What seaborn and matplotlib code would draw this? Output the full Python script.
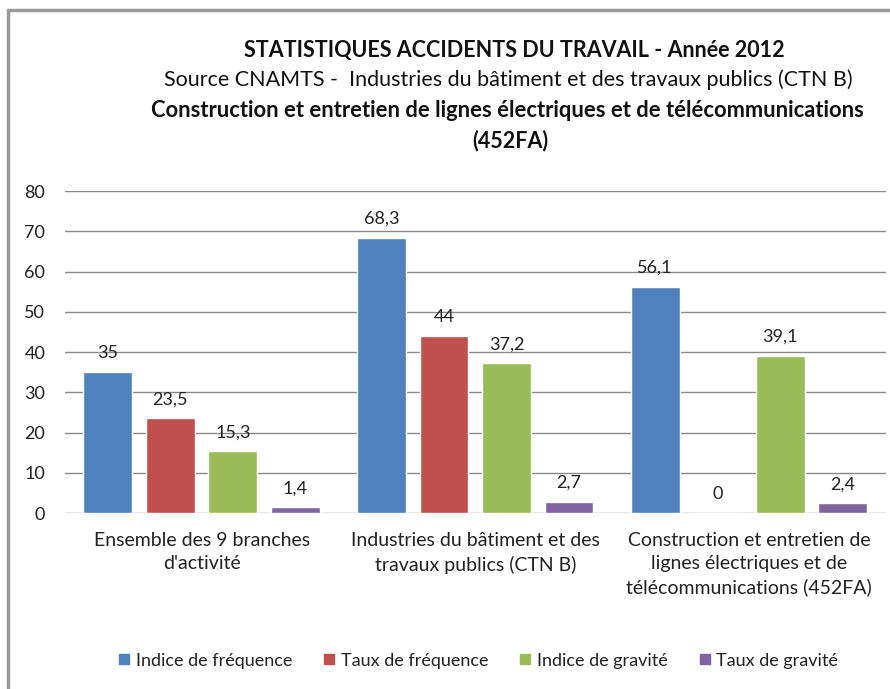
import matplotlib
matplotlib.use("Agg")
import matplotlib.pyplot as plt
import seaborn as sns
import pandas as pd
from matplotlib.lines import Line2D

categories = [
    "Ensemble des 9 branches\nd'activité",
    "Industries du bâtiment et des\ntravaux publics (CTN B)",
    "Construction et entretien de\nlignes électriques et de\ntélécommunications (452FA)",
]
series = ["Indice de fréquence", "Taux de fréquence", "Indice de gravité", "Taux de gravité"]
indice_frequence = [35, 68.3, 56.1]
taux_frequence = [23.5, 44, 0]
indice_gravite = [15.3, 37.2, 39.1]
taux_gravite = [1.4, 2.7, 2.4]
colors = ["#4F81BD", "#C0504D", "#9BBB59", "#8064A2"]
yticks = [0, 10, 20, 30, 40, 50, 60, 70, 80]

values = [indice_frequence, taux_frequence, indice_gravite, taux_gravite]
rows = []
for s, vals in zip(series, values):
    for c, v in zip(categories, vals):
        rows.append({"cat": c, "serie": s, "val": v})
df = pd.DataFrame(rows)

sns.set_style("white")
plt.rcParams["font.family"] = ["Lato", "DejaVu Sans"]

fig = plt.figure(figsize=(8.9, 6.89), dpi=100)
ax = fig.add_axes([0.07275, 0.25544, 0.92253, 0.46734])

sns.barplot(data=df, x="cat", y="val", hue="serie", order=categories,
            hue_order=series, palette=colors, width=0.914, gap=0.22,
            saturation=1, ax=ax, legend=False, errorbar=None)

def fmt(v):
    s = ("%g" % v).replace(".", ",")
    return s

for cont in ax.containers:
    ax.bar_label(cont, labels=[fmt(b.get_height()) for b in cont],
                 padding=8, fontsize=13, color="#222222")

ax.set_ylim(0, 80)
ax.set_yticks(yticks)
ax.set_xlim(-0.5, 2.5)
ax.yaxis.grid(True, color="#8a8a8a", linewidth=1)
ax.set_axisbelow(True)
for sp in ax.spines.values():
    sp.set_visible(False)
ax.tick_params(axis="y", length=0, pad=14, labelsize=13, labelcolor="#222222")
ax.tick_params(axis="x", length=0, pad=14, labelsize=14, labelcolor="#222222")
ax.set_xlabel("")
ax.set_ylabel("")
for lbl in ax.get_xticklabels():
    lbl.set_linespacing(1.42)

handles = [Line2D([0], [0], marker="s", linestyle="none", markersize=7.5,
                  markerfacecolor=c, markeredgecolor=c) for c in colors]
fig.legend(handles, series, loc="center", bbox_to_anchor=(0.537, 0.041), ncol=4,
           frameon=False, fontsize=13, handlelength=0.7, handletextpad=0.3,
           columnspacing=1.7, labelcolor="#222222")

fig.text(0.578, 0.926, "STATISTIQUES ACCIDENTS DU TRAVAIL - Année 2012",
         ha="center", va="center", fontsize=15.5, fontweight="bold", color="#111111")
fig.text(0.571, 0.885, "Source CNAMTS -  Industries du bâtiment et des travaux publics (CTN B)",
         ha="center", va="center", fontsize=15.5, color="#111111")
fig.text(0.570, 0.840, "Construction et entretien de lignes électriques et de télécommunications",
         ha="center", va="center", fontsize=15.8, fontweight="bold", color="#111111")
fig.text(0.573, 0.796, "(452FA)",
         ha="center", va="center", fontsize=15.5, fontweight="bold", color="#111111")

# outer border (top and left edges visible)
fig.add_artist(Line2D([8 / 890, 1.0], [1 - 10 / 689, 1 - 10 / 689],
                      transform=fig.transFigure, color="#9a9a9a", linewidth=2.5))
fig.add_artist(Line2D([8 / 890, 8 / 890], [0, 1 - 10 / 689],
                      transform=fig.transFigure, color="#9a9a9a", linewidth=2.5))

fig.savefig("out.png", dpi=100)
